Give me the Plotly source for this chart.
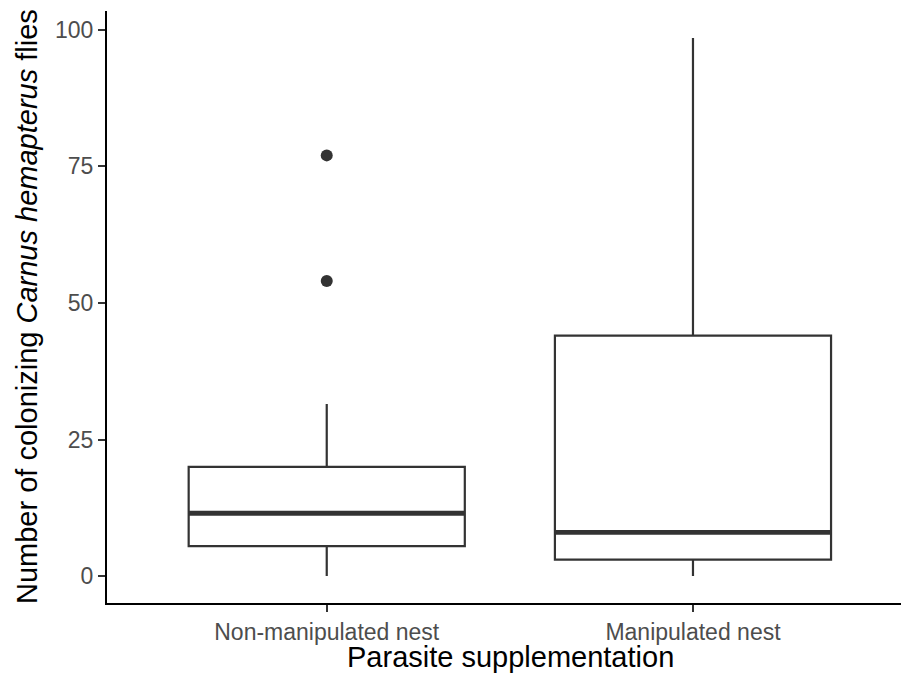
import plotly.graph_objects as go

categories = ["Non-manipulated nest", "Manipulated nest"]
q1 = [5.5, 3.0]
median = [11.5, 8.0]
q3 = [20.0, 44.0]
lower_whisker = [0.0, 0.0]
upper_whisker = [31.5, 98.5]
outlier_group = [0, 0]
outlier_values = [54.0, 77.0]
y_ticks = [0, 25, 50, 75, 100]

box_width = 0.754
line_col = "#333333"

fig = go.Figure()
positions = list(range(len(categories)))
for i, cat in enumerate(categories):
    fig.add_trace(go.Box(
        x=[positions[i]], q1=[q1[i]], median=[median[i]], q3=[q3[i]],
        lowerfence=[lower_whisker[i]], upperfence=[upper_whisker[i]],
        width=box_width, whiskerwidth=0, fillcolor="white",
        line=dict(color=line_col, width=2.2), boxpoints=False,
        name=cat, showlegend=False, hoverinfo="skip",
    ))
    fig.add_trace(go.Scatter(
        x=[positions[i] - box_width / 2, positions[i] + box_width / 2],
        y=[median[i], median[i]], mode="lines",
        line=dict(color=line_col, width=4.8), showlegend=False, hoverinfo="skip",
    ))

fig.add_trace(go.Scatter(
    x=[positions[g] for g in outlier_group], y=outlier_values, mode="markers",
    marker=dict(color=line_col, size=12), showlegend=False, hoverinfo="skip",
))

tick_font = dict(family="Liberation Sans, Arial, sans-serif", size=23, color="#4d4d4d")
title_font = dict(family="Liberation Sans, Arial, sans-serif", size=29, color="black")

plot_left, plot_right, plot_top, plot_bottom = 107, 901, 11, 603
pw = plot_right - plot_left
ph = plot_bottom - plot_top

fig.update_layout(
    width=901, height=675,
    margin=dict(l=plot_left, r=901 - plot_right, t=plot_top, b=675 - plot_bottom),
    paper_bgcolor="white", plot_bgcolor="white",
    font=dict(family="Liberation Sans, Arial, sans-serif"),
    xaxis=dict(
        range=[-0.6, 1.568], tickvals=positions, ticktext=categories, automargin=False,
        showgrid=False, zeroline=False, showline=True, linecolor="black", linewidth=2,
        ticks="outside", ticklen=7, tickwidth=2, tickcolor=line_col, tickfont=tick_font,
    ),
    yaxis=dict(
        range=[-4.925, 103.425], tickvals=y_ticks, automargin=False,
        showgrid=False, zeroline=False, showline=True, linecolor="black", linewidth=2,
        ticks="outside", ticklen=7, tickwidth=2, tickcolor=line_col, tickfont=tick_font,
    ),
    annotations=[
        dict(
            text="Parasite supplementation", xref="paper", yref="paper",
            x=(510 - plot_left) / pw, y=-(657 - plot_bottom) / ph,
            xanchor="center", yanchor="middle", showarrow=False, font=title_font,
        ),
        dict(
            text="Number of colonizing <i>Carnus hemapterus</i> flies", xref="paper", yref="paper",
            x=(27 - plot_left) / pw, y=(plot_bottom - 307) / ph, textangle=-90,
            xanchor="center", yanchor="middle", showarrow=False, font=title_font,
        ),
    ],
)

fig.write_html(
    "out.html",
    config={"displayModeBar": False},
    post_script="document.body.style.margin='0px';document.body.style.overflow='hidden';",
)
